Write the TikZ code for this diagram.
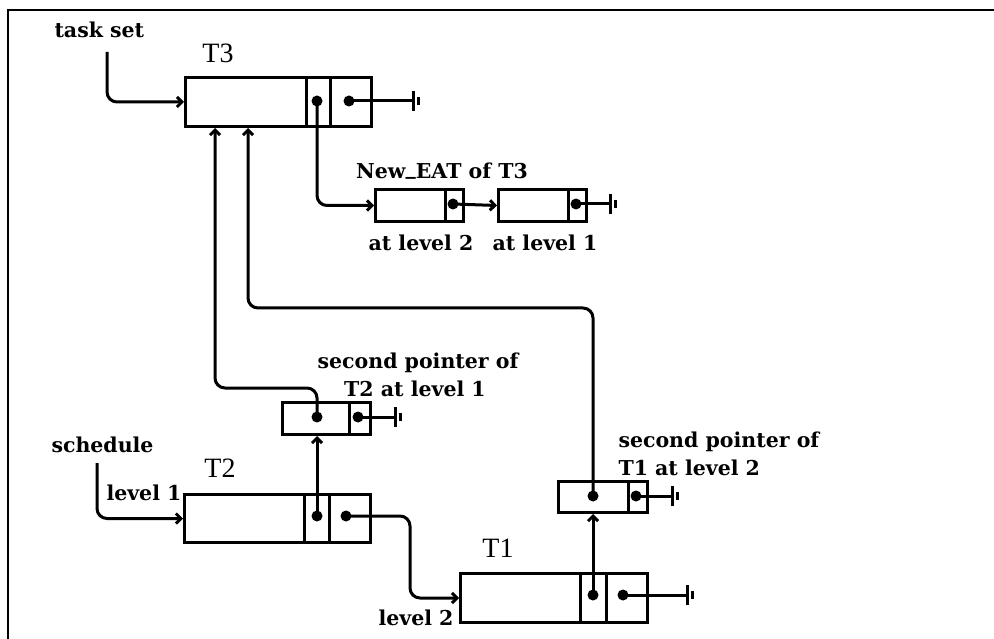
\documentclass[tikz,border=0pt]{standalone}
\usepackage{fontspec}
\setmainfont{DejaVu Serif}
\newfontfamily\tfont{Liberation Serif}
\usetikzlibrary{arrows.meta}
\newcommand\gnd[2]{\draw (#1.center) -- ++(#2,0) ++(0,-10) -- ++(0,20) ++(5,-14) -- ++(0,8);}
\begin{document}
\begin{tikzpicture}[x=1pt,y=-1pt, line width=3pt,
  cell/.style={draw, line width=3pt, inner sep=0pt, anchor=north west},
  dotn/.style={circle, fill, inner sep=0pt, minimum size=11pt},
  lab/.style={font=\fontsize{20.5}{22}\selectfont\bfseries, inner sep=0pt},
  tlab/.style={font=\tfont\fontsize{28}{30}\selectfont, inner sep=0pt},
  arr/.style={-{Straight Barb[length=5pt,width=10pt]}, rounded corners=10pt}]
\useasboundingbox (0,0) rectangle (994,639);
% frame
\draw[line width=2.5pt] (8,639) -- (8,10) -- (994,10);
% records
\node[cell, minimum width=121pt, minimum height=49pt] (T3m) at (184,76) {};
\node[cell, minimum width=24pt, minimum height=49pt] (T3n) at (305,76) {};
\node[cell, minimum width=41pt, minimum height=49pt] (T3l) at (329,76) {};
\node[cell, minimum width=70pt, minimum height=32pt] (NE1m) at (374,188) {};
\node[cell, minimum width=18pt, minimum height=32pt] (NE1c) at (444,188) {};
\node[cell, minimum width=70pt, minimum height=32pt] (NE2m) at (497,188) {};
\node[cell, minimum width=18pt, minimum height=32pt] (NE2c) at (567,188) {};
\node[cell, minimum width=67pt, minimum height=32pt] (SP2m) at (281,401) {};
\node[cell, minimum width=21pt, minimum height=32pt] (SP2c) at (348,401) {};
\node[cell, minimum width=70pt, minimum height=31pt] (SP1m) at (557,480) {};
\node[cell, minimum width=19pt, minimum height=31pt] (SP1c) at (627,480) {};
\node[cell, minimum width=120pt, minimum height=48pt] (T2m) at (183,493) {};
\node[cell, minimum width=25pt, minimum height=48pt] (T2n) at (303,493) {};
\node[cell, minimum width=41pt, minimum height=48pt] (T2l) at (328,493) {};
\node[cell, minimum width=120pt, minimum height=49pt] (T1m) at (459,572) {};
\node[cell, minimum width=26pt, minimum height=49pt] (T1n) at (579,572) {};
\node[cell, minimum width=41pt, minimum height=49pt] (T1l) at (605,572) {};
% dot positions
\coordinate (T3a) at (317,101); \coordinate (T3b) at (349,101);
\coordinate (NE1d) at (453,204); \coordinate (NE2d) at (576,204);
\coordinate (SP2a) at (317,417); \coordinate (SP2b) at (358,417);
\coordinate (SP1a) at (593,496); \coordinate (SP1b) at (636,496);
\coordinate (T2a) at (317,516); \coordinate (T2b) at (346,516);
\coordinate (T1a) at (593,595); \coordinate (T1b) at (623,595);
% connectors
\coordinate (ts) at (107,52);
\draw[arr] (ts) |- (T3m.west);
\draw[arr] (T3a) |- (NE1m.west);
\draw[arr] (NE1d) -- (NE2m.west);
\coordinate (j1) at (215,388);
\draw[arr] (SP2a) |- (j1) -- (j1 |- T3m.south);
\coordinate (j2) at (248,308);
\draw[arr] (SP1a) |- (j2) -- (j2 |- T3m.south);
\draw[arr] (T2a) -- (SP2m.south -| T2a);
\draw[arr] (T1a) -- (SP1m.south -| T1a);
\coordinate (j3) at (410,0);
\draw[arr] (T2b) -| (j3 |- T1m.west) -- (T1m.west);
\coordinate (sc) at (97,463);
\draw[arr] (sc) |- (T2m.west);
% null terminators
\gnd{T3b}{64}
\gnd{NE2d}{34}
\gnd{SP2b}{37}
\gnd{SP1b}{36}
\gnd{T1b}{64}
% dots
\foreach \d in {T3a,T3b,NE1d,NE2d,SP2a,SP2b,SP1a,SP1b,T2a,T2b,T1a,T1b}
  \node[dotn] (d\d) at (\d) {};
% labels
\node[lab, anchor=west] (Lts) at (53,30) {task set};
\node[tlab] (LT3) at (218,53) {T3};
\node[lab, anchor=base] (Lnew) at (442,179) {New\raisebox{4pt}{\_}EAT of T3};
\node[lab] (Lat2) at (421,243) {at level 2};
\node[lab] (Lat1) at (545,243) {at level 1};
\node[lab] (Lsp2a) at (418,363) {second pointer of};
\node[lab] (Lsp2b) at (415,389) {T2 at level 1};
\node[lab, anchor=west] (Lsch) at (50,445) {schedule};
\node[lab, anchor=west] (Llv1) at (105,493) {level 1};
\node[tlab] (LT2) at (220,468) {T2};
\node[lab, anchor=west] (Lsp1a) at (617,442) {second pointer of};
\node[lab, anchor=west] (Lsp1b) at (617,468) {T1 at level 2};
\node[tlab] (LT1) at (498,548) {T1};
\node[lab, anchor=east] (Llv2) at (455,618) {level 2};
\end{tikzpicture}
\end{document}
